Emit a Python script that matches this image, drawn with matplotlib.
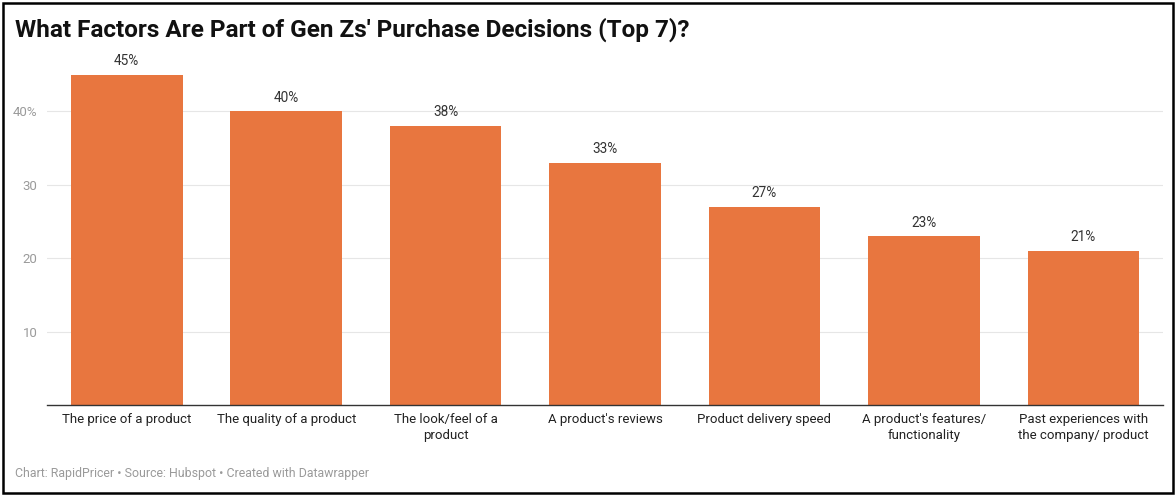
import matplotlib
matplotlib.use("Agg")
import matplotlib.pyplot as plt
from matplotlib.patches import Rectangle

plt.rcParams['font.family'] = ['Roboto', 'DejaVu Sans']

# data
categories = ["The price of a product", "The quality of a product",
              "The look/feel of a\nproduct", "A product's reviews",
              "Product delivery speed", "A product's features/\nfunctionality",
              "Past experiences with\nthe company/ product"]
values = [45, 40, 38, 33, 27, 23, 21]
yticks = [10, 20, 30, 40]
ytick_labels = ["10", "20", "30", "40%"]

bar_color = "#E8763F"

fig = plt.figure(figsize=(11.76, 4.96), dpi=100)
ax = fig.add_axes([0.040, 0.1835, 0.949, 0.6955])

x = range(len(values))
ax.bar(x, values, width=0.70, color=bar_color, zorder=2)

# value labels
for i, v in enumerate(values):
    ax.text(i, v + 0.9, f"{v}%", ha="center", va="bottom",
            fontsize=9.8, color="#333333")

ax.set_xlim(-0.5, 6.5)
ax.set_ylim(0, 47)
ax.set_yticks(yticks)
ax.set_yticklabels(ytick_labels, color="#9a9a9a", fontsize=9.5)
ax.set_xticks(list(x))
ax.set_xticklabels(categories, fontsize=9.5, color="#222222", linespacing=1.3)
ax.tick_params(axis="y", length=0, pad=7)
ax.tick_params(axis="x", length=0, pad=6)
ax.grid(axis="y", color="#e6e6e6", linewidth=0.8, zorder=0)
for s in ["top", "right", "left"]:
    ax.spines[s].set_visible(False)
ax.spines["bottom"].set_color("#333333")
ax.spines["bottom"].set_linewidth(1.0)

# title and footer
fig.text(15 / 1176, 1 - 30 / 496, "What Factors Are Part of Gen Zs' Purchase Decisions (Top 7)?",
         fontsize=17.5, fontweight="bold", color="#111111", va="center", ha="left")
fig.text(15 / 1176, 1 - 474 / 496, "Chart: RapidPricer \u2022 Source: Hubspot \u2022 Created with Datawrapper",
         fontsize=8.9, color="#9a9a9a", va="center", ha="left")

# frame around the image
fig.patches.append(Rectangle((3 / 1176, 3 / 496), 1 - 6 / 1176, 1 - 6 / 496,
                             transform=fig.transFigure, fill=False,
                             edgecolor="black", linewidth=1.8))

fig.savefig("out.png", dpi=100)
